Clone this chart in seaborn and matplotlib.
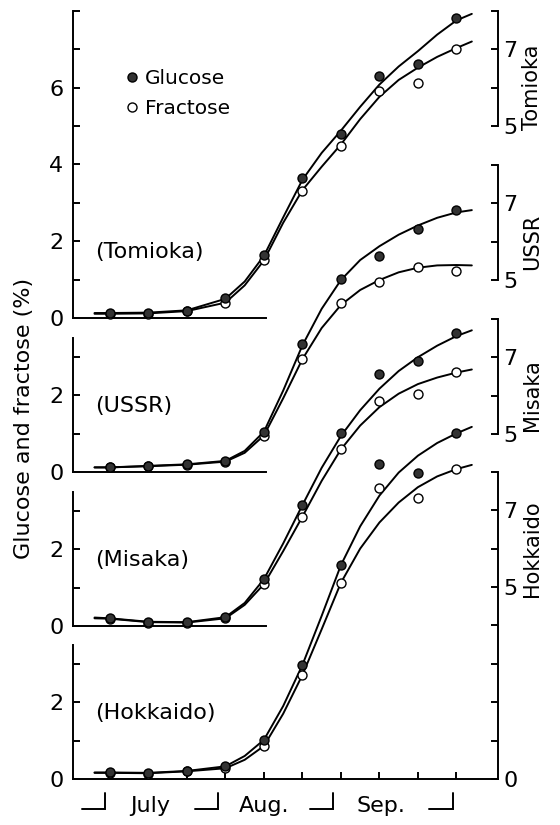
import matplotlib.pyplot as plt
import seaborn as sns
from matplotlib.lines import Line2D
from matplotlib.transforms import blended_transform_factory

# sampling dates (days after 1 July) and the days where the fitted curves were read
sample_days = [2, 12, 22, 32, 42, 52, 62, 72, 82, 92]
curve_days = [-2, 2, 12, 22, 32, 37, 42, 47, 52, 57, 62, 67, 72, 77, 82, 87, 92, 96]

month_names = ["July", "Aug.", "Sep."]
month_ends = [0.7, 30, 60, 91]

cultivars = ["Tomioka", "USSR", "Misaka", "Hokkaido"]

tomioka_glu = [0.12, 0.13, 0.19, 0.52, 1.64, 3.64, 4.78, 6.31, 6.62, 7.82]
tomioka_fru = [0.10, 0.10, 0.17, 0.39, 1.50, 3.32, 4.47, 5.90, 6.13, 7.00]
tomioka_glu_fit = [0.13, 0.13, 0.14, 0.20, 0.50, 0.95, 1.62, 2.62, 3.60, 4.30,
                   4.88, 5.50, 6.08, 6.55, 6.95, 7.38, 7.75, 7.92]
tomioka_fru_fit = [0.11, 0.11, 0.12, 0.18, 0.40, 0.85, 1.50, 2.48, 3.33, 3.94,
                   4.52, 5.18, 5.76, 6.20, 6.52, 6.80, 7.03, 7.20]

ussr_glu = [0.12, 0.16, 0.20, 0.29, 1.05, 3.33, 5.02, 5.62, 6.33, 6.82]
ussr_fru = [0.12, 0.15, 0.19, 0.27, 0.94, 2.94, 4.39, 4.95, 5.33, 5.24]
ussr_glu_fit = [0.12, 0.12, 0.16, 0.20, 0.29, 0.55, 1.05, 2.12, 3.30, 4.25,
                5.00, 5.52, 5.88, 6.18, 6.42, 6.62, 6.76, 6.82]
ussr_fru_fit = [0.12, 0.12, 0.15, 0.19, 0.27, 0.50, 0.95, 1.92, 2.94, 3.75,
                4.35, 4.74, 5.00, 5.20, 5.32, 5.38, 5.39, 5.38]

misaka_glu = [0.20, 0.10, 0.10, 0.23, 1.22, 3.15, 5.02, 6.56, 6.90, 7.62]
misaka_fru = [0.19, 0.09, 0.09, 0.20, 1.09, 2.85, 4.61, 5.86, 6.04, 6.61]
misaka_glu_fit = [0.22, 0.20, 0.11, 0.10, 0.23, 0.60, 1.22, 2.15, 3.15, 4.12,
                  4.95, 5.62, 6.18, 6.64, 7.00, 7.30, 7.55, 7.70]
misaka_fru_fit = [0.20, 0.19, 0.10, 0.09, 0.20, 0.55, 1.09, 1.95, 2.85, 3.78,
                  4.60, 5.22, 5.70, 6.05, 6.30, 6.47, 6.60, 6.68]

hokkaido_glu = [0.17, 0.15, 0.21, 0.35, 1.02, 2.97, 5.57, 8.20, 7.96, 9.00]
hokkaido_fru = [0.16, 0.14, 0.20, 0.29, 0.86, 2.71, 5.11, 7.57, 7.33, 8.07]
hokkaido_glu_fit = [0.17, 0.17, 0.16, 0.21, 0.33, 0.60, 1.02, 1.90, 2.97, 4.25,
                    5.57, 6.58, 7.38, 7.98, 8.42, 8.75, 9.00, 9.17]
hokkaido_fru_fit = [0.16, 0.16, 0.15, 0.20, 0.28, 0.50, 0.86, 1.70, 2.71, 3.90,
                    5.11, 6.00, 6.68, 7.20, 7.60, 7.88, 8.07, 8.18]

series = {
    "Tomioka": (tomioka_glu, tomioka_fru, tomioka_glu_fit, tomioka_fru_fit),
    "USSR": (ussr_glu, ussr_fru, ussr_glu_fit, ussr_fru_fit),
    "Misaka": (misaka_glu, misaka_fru, misaka_glu_fit, misaka_fru_fit),
    "Hokkaido": (hokkaido_glu, hokkaido_fru, hokkaido_glu_fit, hokkaido_fru_fit),
}

sns.set_style("ticks")
plt.rcParams["font.family"] = ["DejaVu Sans"]
plt.rcParams.update({
    "text.color": "black",
    "axes.edgecolor": "black",
    "axes.labelcolor": "black",
    "xtick.color": "black",
    "ytick.color": "black",
})

W, H = 560, 825
fig = plt.figure(figsize=(W / 100, H / 100), dpi=100)
fig.patch.set_facecolor("white")

LW = 1.4
GLU_FACE = "#333333"
X_LIM = (-7.6, 102.8)
PX_PER_UNIT = 38.4
left_px, right_px = 73, 498
zero_px = [318, 472, 626, 779]
panel_x_end = 42.5

for i, name in enumerate(cultivars):
    glu, fru, glu_fit, fru_fit = series[name]
    last = name == "Hokkaido"
    top_val = 8 if name == "Tomioka" else 3.5

    ax = fig.add_axes([left_px / W, (H - zero_px[i]) / H,
                       (right_px - left_px) / W, 8 * PX_PER_UNIT / H])
    ax.patch.set_visible(False)
    ax.set_xlim(*X_LIM)
    ax.set_ylim(0, 8)

    sns.lineplot(x=curve_days, y=fru_fit, ax=ax, color="black", lw=LW,
                 estimator=None, sort=False, clip_on=False)
    sns.lineplot(x=curve_days, y=glu_fit, ax=ax, color="black", lw=LW,
                 estimator=None, sort=False, clip_on=False)
    sns.scatterplot(x=sample_days, y=fru, ax=ax, s=42, color="white",
                    edgecolor="black", linewidth=1.0, clip_on=False, zorder=4)
    sns.scatterplot(x=sample_days, y=glu, ax=ax, s=42, color=GLU_FACE,
                    edgecolor="black", linewidth=1.0, clip_on=False, zorder=5)

    # left scale
    for side in ["top", "right"]:
        ax.spines[side].set_visible(False)
    for side in ["left", "bottom"]:
        ax.spines[side].set_linewidth(LW)
    ax.spines["left"].set_bounds(0, top_val)
    ax.spines["bottom"].set_bounds(X_LIM[0], X_LIM[1] if last else panel_x_end)
    major = [v for v in [0, 2, 4, 6] if v <= top_val]
    minor = [v for v in [1, 3, 5, 7, 8] if v <= top_val]
    ax.set_yticks(major)
    ax.set_yticks(minor, minor=True)
    ax.set_yticklabels([str(v) for v in major])
    ax.tick_params(axis="y", which="both", direction="in", length=5,
                   width=LW, labelsize=16, pad=7)
    if last:
        ax.set_xticks(sample_days)
        ax.tick_params(axis="x", direction="in", length=5, width=LW,
                       labelbottom=False)
    else:
        ax.set_xticks([])
    ax.set_xlabel("")
    ax.set_ylabel("")

    ax.text(-1.8, 1.72, f"({name})", fontsize=16, ha="left", va="center")

    # right scale
    tw = ax.twinx()
    tw.set_ylim(0, 8)
    for side in ["top", "left", "bottom"]:
        tw.spines[side].set_visible(False)
    tw.spines["right"].set_linewidth(LW)
    tw.spines["right"].set_bounds(0 if last else 5, 8)
    r_major = [0, 5, 7] if last else [5, 7]
    r_minor = [1, 2, 3, 4, 6, 8] if last else [6, 8]
    tw.set_yticks(r_major)
    tw.set_yticks(r_minor, minor=True)
    tw.set_yticklabels([str(v) for v in r_major])
    tw.tick_params(axis="y", which="both", direction="in", length=5,
                   width=LW, labelsize=16, pad=4)
    trans = blended_transform_factory(ax.transAxes, ax.transData)
    tw.text(1.08, 6, name, transform=trans, rotation=90, fontsize=15,
            ha="center", va="center")

    if name == "Tomioka":
        handles = [
            Line2D([], [], ls="", marker="o", ms=6.5, mfc=GLU_FACE, mec="black", mew=1.0),
            Line2D([], [], ls="", marker="o", ms=6.5, mfc="white", mec="black", mew=1.0),
        ]
        ax.legend(handles, ["Glucose", "Fractose"], loc="upper left",
                  bbox_to_anchor=(5.9, 6.49), bbox_transform=ax.transData,
                  frameon=False, fontsize=14.5, handlelength=0.7,
                  handletextpad=0.3, borderpad=0, borderaxespad=0,
                  labelspacing=0.55)

    if last:
        # month brackets and names under the time axis
        for edge in month_ends:
            ax.plot([edge - 6, edge, edge], [-0.78, -0.78, -0.36], color="black",
                    lw=LW, clip_on=False, solid_joinstyle="miter")
        for k, label in enumerate(month_names):
            mid = (month_ends[k] + month_ends[k + 1] - 6) / 2
            ax.text(mid, -0.85, label, fontsize=16, ha="center", va="baseline")

fig.text(24 / W, (H - 418) / H, "Glucose and fractose (%)", rotation=90,
         fontsize=16, ha="center", va="center")

fig.savefig("out.png", dpi=100, facecolor="white")
